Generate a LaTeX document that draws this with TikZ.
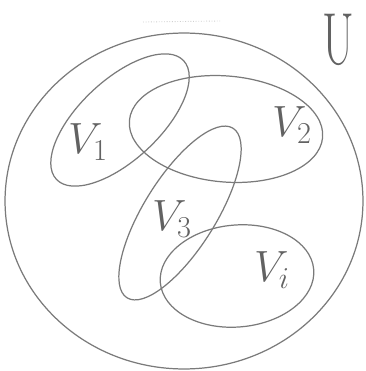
\documentclass[tikz,border=0pt]{standalone}
\usepackage{xcolor}
\usepackage{tikz}
\usetikzlibrary{shapes.geometric}
\definecolor{pencil}{HTML}{7A7A7A}

\begin{document}
\begin{tikzpicture}[x=0.02cm,y=-0.02cm,
  setline/.style={ellipse,draw=pencil,line width=0.7pt,inner sep=0pt},
  setname/.style={text=pencil!80!black,font=\fontsize{24}{24}\selectfont}
]
\useasboundingbox (0,0) rectangle (365,371);
\node[setline,minimum width=7.16cm,minimum height=6.72cm] (univ) at (184,201) {};
\node[setline,minimum width=3.48cm,minimum height=1.6cm,rotate=43] (v1) at (120,120) {};
\node[setline,minimum width=3.88cm,minimum height=2.12cm,rotate=-5] (v2) at (226,129) {};
\node[setline,minimum width=4cm,minimum height=1.44cm,rotate=58] (v3) at (180,213) {};
\node[setline,minimum width=3.08cm,minimum height=2.04cm,rotate=5] (vi) at (237,276) {};
\node[setname] (l1) at (88,142) {$V_1$};
\node[setname] (l2) at (292,125) {$V_2$};
\node[setname] (l3) at (172,219) {$V_3$};
\node[setname] (li) at (272,270) {$V_i$};
\node[text=pencil!80!black,font=\fontsize{42}{42}\selectfont] (uname) at (338,40) {\scalebox{0.62}[1]{U}};
\draw[pencil!35,line width=0.5pt,densely dotted] (143,22) -- (220,21);
\end{tikzpicture}
\end{document}
